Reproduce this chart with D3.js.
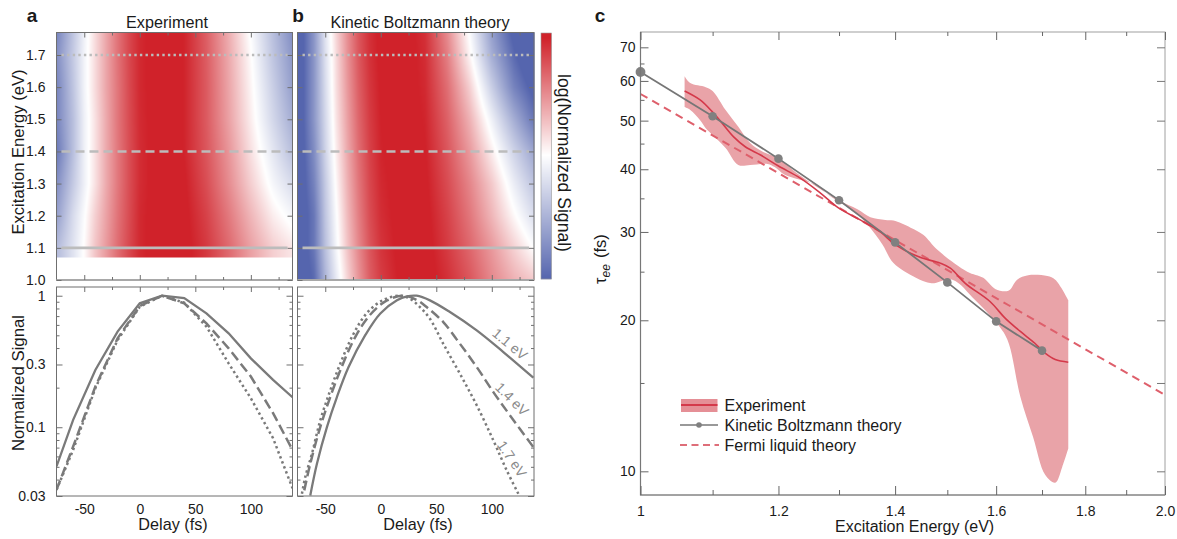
<!DOCTYPE html>
<html><head><meta charset="utf-8">
<script src="https://cdn.jsdelivr.net/npm/d3@7"></script>
<style>
html,body{margin:0;padding:0;background:#fff}
svg{display:block}
text{font-family:"Liberation Sans",Arial,sans-serif;fill:#1a1a1a}
</style></head><body>
<svg id="c" width="1177" height="539"></svg>
<script>
// Heat map grid: delay columns (fs), energy rows (eV), normalized signal cells
const delays=[-75,-60,-50,-40,-30,-20,-10,0,20,40,60,80,100,120,137.5];
const energiesA=[1.07,1.1,1.2,1.3,1.4,1.5,1.6,1.7,1.77];
const signalA=[
[.075,.12,.17,.26,.36,.50,.66,.84,1,.97,.75,.52,.34,.24,.20],
[.075,.12,.17,.26,.36,.50,.66,.84,1,.97,.75,.52,.34,.24,.20],
[.055,.11,.16,.24,.34,.48,.64,.84,1,.95,.70,.46,.29,.19,.15],
[.045,.09,.14,.21,.32,.46,.63,.82,1,.92,.64,.40,.24,.15,.11],
[.035,.08,.14,.21,.32,.46,.63,.82,1,.88,.60,.37,.21,.125,.08],
[.04,.08,.14,.21,.32,.47,.64,.83,1,.88,.58,.34,.19,.105,.065],
[.04,.085,.145,.22,.33,.47,.65,.84,1,.88,.58,.33,.18,.095,.055],
[.045,.09,.145,.22,.33,.48,.66,.84,1,.88,.57,.32,.17,.085,.05],
[.04,.085,.14,.22,.33,.48,.66,.84,1,.88,.56,.31,.16,.08,.045]];
const energiesB=[1.0,1.1,1.2,1.3,1.4,1.5,1.6,1.7,1.77];
const signalB=[
[.02,.03,.07,.13,.23,.37,.56,.72,.95,1,.80,.60,.41,.30,.25],
[.02,.035,.08,.15,.26,.41,.60,.77,.97,.98,.74,.53,.36,.235,.165],
[.02,.035,.085,.16,.28,.44,.64,.81,.98,.96,.70,.47,.29,.175,.115],
[.02,.04,.09,.175,.30,.47,.67,.84,.99,.93,.65,.42,.25,.135,.085],
[.02,.045,.10,.19,.32,.50,.70,.87,1,.90,.60,.36,.19,.10,.06],
[.02,.05,.105,.205,.34,.53,.73,.89,1,.87,.55,.30,.14,.065,.035],
[.02,.05,.11,.215,.36,.56,.76,.91,1,.84,.50,.24,.095,.04,.025],
[.02,.05,.115,.22,.38,.59,.79,.93,1,.82,.44,.18,.065,.03,.018],
[.02,.05,.12,.23,.39,.60,.80,.94,1,.80,.40,.16,.055,.025,.015]];

// Lower panels: normalized signal against delay
const expDelay=[-75,-60,-40,-20,0,20,40,60,80,100,120,137.5];
const exp11=[.0503,.1137,.2726,.533,.875,1,.96,.734,.518,.334,.229,.169];
const exp14=[.0334,.0713,.204,.474,.835,1,.875,.616,.398,.243,.128,.0673];
const exp17=[.0334,.0673,.198,.46,.825,1,.885,.582,.306,.166,.0825,.0344];
const thDelay11=[-63.5,-57.5,-48.5,-39.5,-29,-14,-.4,14.6,23.6,32.3,44.3,62.3,86.4,110.4,137.4];
const th11=[.0303,.0528,.1003,.1696,.2868,.501,.733,.922,.988,1,.922,.751,.545,.373,.238];
const thDelay14=[-68.9,-63.5,-54.5,-45.5,-36.5,-23,-9.4,5.6,20.6,32.3,41.3,56.3,71.3,86.4,101.4,116.4,137.4];
const th14=[.0331,.0528,.1003,.1696,.2705,.485,.72,.922,1,.93,.82,.63,.431,.287,.185,.123,.0706];
const thDelay17=[-71,-68,-62,-54.5,-45.5,-36.5,-24.5,-12.4,2.6,17.6,26.3,35.3,44.3,56.3,71.3,86.4,101.4,113.4,123.9];
const th17=[.0312,.0418,.0629,.1127,.1906,.304,.514,.74,.932,1,.949,.82,.668,.431,.255,.147,.0794,.047,.0312];

// Panel c
const boltzE=[1.0,1.1,1.2,1.3,1.4,1.5,1.6,1.7];
const boltzTau=[62.5,51,42,34.7,28.6,23.8,19.9,17.4];
const fermiE=[1.0,2.0];
const fermiTau=[56.5,14.2];
const expE=[1.060,1.082,1.100,1.114,1.131,1.149,1.172,1.200,1.235,1.268,1.299,1.337,1.373,1.400,1.447,1.486,1.506,1.536,1.587,1.619,1.652,1.684,1.707,1.730,1.760];
const expTau=[57.3,55.0,52.0,49.4,46.4,44.3,42.7,40.6,38.4,35.9,33.5,31.7,30.0,28.3,26.7,26.0,25.4,23.7,21.8,20.2,19.0,18.0,17.2,16.7,16.5];
const upperE=[1.060,1.068,1.090,1.100,1.119,1.138,1.156,1.176,1.200,1.227,1.252,1.299,1.332,1.355,1.382,1.397,1.429,1.453,1.481,1.540,1.573,1.598,1.626,1.645,1.669,1.712,1.730,1.760];
const upperTau=[61.3,59.4,58.3,57.3,52.5,48.6,45.1,43.3,42.1,39.5,37.6,34.7,33.3,32.1,31.7,31.6,30.6,29.6,27.6,25.0,24.3,23.1,22.9,24.1,24.6,24.5,24.1,21.95];
const lowerE=[1.060,1.068,1.082,1.090,1.100,1.119,1.138,1.156,1.183,1.194,1.210,1.235,1.261,1.287,1.323,1.350,1.377,1.397,1.439,1.469,1.510,1.556,1.600,1.624,1.652,1.680,1.707,1.730,1.746,1.760];
const lowerTau=[53.2,52.5,50.1,48.3,46.8,44.1,40.8,40.8,41.0,40.4,39.0,38.1,37.2,35.2,33.2,31.0,28.3,26.0,24.3,23.7,24.1,21.95,19.8,18.3,14.08,11.7,9.84,9.49,10.2,11.1];

const yTicksHeat=[1.0,1.1,1.2,1.3,1.4,1.5,1.6,1.7];
const xTicksDelay=[-50,0,50,100];
const xMinorDelay=[-25,25,75,125];
const yTicksSignal=[1,.3,.1,.03];
const yMinorSignal=[.9,.8,.7,.6,.5,.4,.2,.09,.08,.07,.06,.05,.04];
const xTicksC=[1,1.2,1.4,1.6,1.8,2.0];
const xMinorC=[1.1,1.3,1.5,1.7,1.9];
const yTicksC=[10,20,30,40,50,60,70];
const yMinorC=[15,25,35,45,55,65];

const svg=d3.select("#c");
const frameCol="#6f6f6f";
const heatColor=d3.scaleLinear().domain([-1.55,-.78,-.05]).range(["#5565ae","#ffffff","#d0222a"]).clamp(true);

function lookup(rows,grid,e,d){
  if(e<rows[0]||e>rows[rows.length-1]) return null;
  let i=Math.min(d3.bisectRight(rows,e)-1,rows.length-2);
  let j=Math.min(Math.max(d3.bisectRight(delays,d)-1,0),delays.length-2);
  const u=(e-rows[i])/(rows[i+1]-rows[i]), v=Math.max(0,Math.min(1,(d-delays[j])/(delays[j+1]-delays[j])));
  const L=x=>Math.log10(x);
  return (1-u)*((1-v)*L(grid[i][j])+v*L(grid[i][j+1]))+u*((1-v)*L(grid[i+1][j])+v*L(grid[i+1][j+1]));
}
function axis(g,gen,t,opts={}){
  const a=g.append("g").attr("transform",t).call(gen);
  a.select(".domain").remove();
  a.selectAll(".tick line").attr("stroke",opts.col||frameCol).attr("stroke-width",1);
  a.selectAll(".tick text").attr("font-size",opts.fs||14).attr("fill","#1a1a1a").attr("font-family",'"Liberation Sans",Arial,sans-serif');
  return a;
}
function frame(x,y,opts={}){
  const [x0,x1]=x.range(),[y0,y1]=[y.range()[1],y.range()[0]];
  svg.append("rect").attr("x",x0).attr("y",y0).attr("width",x1-x0).attr("height",y1-y0)
    .attr("fill","none").attr("stroke",opts.col||frameCol).attr("stroke-width",1);
}
function heat(x,y,rows,grid){
  const [x0,x1]=x.range(),[y1,y0]=y.range();
  const W=Math.round(x1-x0),H=Math.round(y1-y0);
  const cv=document.createElement("canvas");cv.width=W;cv.height=H;
  const ctx=cv.getContext("2d"),img=ctx.createImageData(W,H);
  for(let r=0;r<H;r++)for(let c=0;c<W;c++){
    const val=lookup(rows,grid,y.invert(y0+r+.5),x.invert(x0+c+.5));
    const k=(r*W+c)*4;
    if(val===null){img.data.set([255,255,255,255],k);continue;}
    const col=d3.rgb(heatColor(val));
    img.data.set([col.r,col.g,col.b,255],k);
  }
  ctx.putImageData(img,0,0);
  svg.append("image").attr("x",x0).attr("y",y0).attr("width",W).attr("height",H).attr("href",cv.toDataURL());
}
function delayTicks(x,y,heatPanel){
  const [b,t]=y.range();
  axis(svg,d3.axisTop(x).tickValues(xTicksDelay).tickSize(-5).tickFormat(""),`translate(0,${t})`);
  axis(svg,d3.axisTop(x).tickValues(xMinorDelay).tickSize(-3).tickFormat(""),`translate(0,${t})`);
  if(heatPanel){
    axis(svg,d3.axisBottom(x).tickValues(xTicksDelay).tickSize(-5).tickFormat(""),`translate(0,${b})`);
    axis(svg,d3.axisBottom(x).tickValues(xMinorDelay).tickSize(-3).tickFormat(""),`translate(0,${b})`);
  } else {
    axis(svg,d3.axisBottom(x).tickValues(xTicksDelay).tickSize(0).tickPadding(8).tickFormat(d=>String(d)),`translate(0,${b})`);
  }
}
function guide(x,y,e,dash,width){
  svg.append("line").attr("x1",x.range()[0]+5).attr("x2",x.range()[1]-5).attr("y1",y(e)).attr("y2",y(e))
    .attr("stroke","#bcbcbc").attr("stroke-width",width).attr("stroke-dasharray",dash);
}
function title(s,x,y,opts={}){
  const t=svg.append("text").attr("x",x).attr("y",y).attr("text-anchor",opts.anchor||"middle")
    .attr("font-size",opts.fs||16).attr("font-weight",opts.bold?"bold":null).text(s);
  if(opts.rot!==undefined) t.attr("transform",`rotate(${opts.rot} ${x} ${y})`);
  if(opts.dy) t.attr("dy",opts.dy);
  if(opts.fill) t.style("fill",opts.fill);
  return t;
}

// ---- Heat maps
const xA=d3.scaleLinear().domain([-75,137.5]).range([56.5,292.5]);
const xB=d3.scaleLinear().domain([-75,138]).range([297.5,534]);
const yH=d3.scaleLinear().domain([1.0,1.77]).range([280,32.5]);
heat(xA,yH,energiesA,signalA);
heat(xB,yH,energiesB,signalB);
[[xA,true],[xB,false]].forEach(([x,lab])=>{
  frame(x,yH);
  svg.append("line").attr("x1",x.range()[0]).attr("x2",x.range()[1]).attr("y1",280).attr("y2",280).attr("stroke","#a8a8a8").attr("stroke-width",2);
  delayTicks(x,yH,true);
  axis(svg,d3.axisRight(yH).tickValues(yTicksHeat).tickSize(-5).tickFormat(""),`translate(${x.range()[1]},0)`);
  axis(svg,d3.axisLeft(yH).tickValues(yTicksHeat).tickSize(-5).tickPadding(11).tickFormat(lab?d3.format(".1f"):""),`translate(${x.range()[0]},0)`);
  guide(x,yH,1.1,null,2.6);
  guide(x,yH,1.4,"9 5",2.4);
  guide(x,yH,1.7,"2.4 3.2",2.4);
});

// ---- Color bar
const barY=d3.scaleLinear().domain([-1.55,-.02]).range([279,33]);
d3.range(33,279).forEach(py=>{
  svg.append("rect").attr("x",541).attr("y",py).attr("width",10.5).attr("height",1.2).attr("fill",heatColor(barY.invert(py+.5)));
});
svg.append("rect").attr("x",541).attr("y",33).attr("width",10.5).attr("height",246).attr("fill","none").attr("stroke","#999").attr("stroke-width",.6);

// ---- Lower line panels
const yS=d3.scaleLog().domain([.03,1.165]).range([496,287]);
const clip=svg.append("defs");
function clipFor(id,x,y){
  clip.append("clipPath").attr("id",id).append("rect").attr("x",x.range()[0]).attr("y",y.range()[1]).attr("width",x.range()[1]-x.range()[0]).attr("height",y.range()[0]-y.range()[1]);
}
clipFor("cA",xA,yS);clipFor("cB",xB,yS);
function sigLine(x,ds,vs,dash,clipId,curve,w){
  const l=d3.line().x(i=>x(ds[i])).y(i=>yS(vs[i])).curve(curve);
  svg.append("path").attr("d",l(d3.range(ds.length))).attr("fill","none").attr("stroke","#7a7a7a")
    .attr("stroke-width",w).attr("stroke-dasharray",dash).attr("clip-path",`url(#${clipId})`);
}
sigLine(xA,expDelay,exp17,"2.4 3","cA",d3.curveLinear,2.5);
sigLine(xA,expDelay,exp14,"10 4.5","cA",d3.curveLinear,2.5);
sigLine(xA,expDelay,exp11,null,"cA",d3.curveLinear,2.3);
sigLine(xB,thDelay17,th17,"2.4 3","cB",d3.curveCatmullRom,2.5);
sigLine(xB,thDelay14,th14,"10 4.5","cB",d3.curveCatmullRom,2.5);
sigLine(xB,thDelay11,th11,null,"cB",d3.curveCatmullRom,2.3);
[[xA,true],[xB,false]].forEach(([x,lab])=>{
  frame(x,yS);
  delayTicks(x,yS,false);
  axis(svg,d3.axisLeft(yS).tickValues(yTicksSignal).tickSize(-6).tickPadding(11).tickFormat(lab?d3.format(""):""),`translate(${x.range()[0]},0)`);
  axis(svg,d3.axisLeft(yS).tickValues(yMinorSignal).tickSize(-3).tickFormat(""),`translate(${x.range()[0]},0)`);
  axis(svg,d3.axisRight(yS).tickValues(yTicksSignal).tickSize(-6).tickFormat(""),`translate(${x.range()[1]},0)`);
  axis(svg,d3.axisRight(yS).tickValues(yMinorSignal).tickSize(-3).tickFormat(""),`translate(${x.range()[1]},0)`);
});
title("1.1 eV",510,344,{fs:14,rot:40,fill:"#8a8a8a",dy:".35em"});
title("1.4 eV",512,399,{fs:14,rot:45,fill:"#8a8a8a",dy:".35em"});
title("1.7 eV",512,459,{fs:14,rot:56,fill:"#8a8a8a",dy:".35em"});

// ---- Panel c
const xC=d3.scaleLog().domain([1,2]).range([640.5,1165]);
const yC=d3.scaleLog().domain([8.97,75.1]).range([495,32]);
const edge=d3.line().x(d=>xC(d[0])).y(d=>yC(d[1])).curve(d3.curveCatmullRom);
const upperPts=upperE.map((e,i)=>[e,upperTau[i]]);
const lowerPts=lowerE.map((e,i)=>[e,lowerTau[i]]).reverse();
svg.append("path").attr("d",edge(upperPts)+"L"+edge(lowerPts).slice(1)+"Z").attr("fill","#e9a3a8").attr("stroke","none");
svg.append("path").attr("d",d3.line().x(i=>xC(fermiE[i])).y(i=>yC(fermiTau[i]))([0,1]))
  .attr("fill","none").attr("stroke","#de5f6b").attr("stroke-width",2).attr("stroke-dasharray","8 5.5");
svg.append("path").attr("d",d3.line().x(i=>xC(expE[i])).y(i=>yC(expTau[i])).curve(d3.curveCatmullRom)(d3.range(expE.length)))
  .attr("fill","none").attr("stroke","#d4394a").attr("stroke-width",1.6);
svg.append("path").attr("d",d3.line().x(i=>xC(boltzE[i])).y(i=>yC(boltzTau[i]))(d3.range(boltzE.length)))
  .attr("fill","none").attr("stroke","#767676").attr("stroke-width",1.8);
svg.selectAll("circle.b").data(boltzE).join("circle").attr("class","b")
  .attr("cx",d=>xC(d)).attr("cy",(d,i)=>yC(boltzTau[i])).attr("r",(d,i)=>i?4.3:4.9).attr("fill","#808080");
svg.append("rect").attr("x",640.5).attr("y",32).attr("width",524.5).attr("height",463).attr("fill","none").attr("stroke","#a0a0a0").attr("stroke-width",1);
svg.append("path").attr("d","M640.5 32V495H1165").attr("fill","none").attr("stroke","#777").attr("stroke-width",1.2);
axis(svg,d3.axisBottom(xC).tickValues(xTicksC).tickSize(-9).tickPadding(11).tickFormat(d=>d===1?"1":d.toFixed(1)),"translate(0,495)",{col:"#666"});
axis(svg,d3.axisBottom(xC).tickValues(xMinorC).tickSize(-5).tickFormat(""),"translate(0,495)",{col:"#666"});
axis(svg,d3.axisTop(xC).tickValues(xTicksC).tickSize(-8).tickFormat(""),"translate(0,32)",{col:"#666"});
axis(svg,d3.axisTop(xC).tickValues(xMinorC).tickSize(-4).tickFormat(""),"translate(0,32)",{col:"#666"});
axis(svg,d3.axisLeft(yC).tickValues(yTicksC).tickSize(-8).tickPadding(5).tickFormat(d3.format("d")),"translate(640.5,0)",{col:"#666"});
axis(svg,d3.axisLeft(yC).tickValues(yMinorC).tickSize(-4).tickFormat(""),"translate(640.5,0)",{col:"#666"});
axis(svg,d3.axisRight(yC).tickValues(yTicksC.concat(yMinorC.filter(d=>d===15||d===25))).tickSize(-8).tickFormat(""),"translate(1165,0)",{col:"#777"});

// Legend
svg.append("rect").attr("x",681).attr("y",399).attr("width",36.5).attr("height",13).attr("fill","#e58f96");
svg.append("line").attr("x1",681).attr("x2",717.5).attr("y1",405).attr("y2",405).attr("stroke","#d4394a").attr("stroke-width",2);
svg.append("line").attr("x1",680).attr("x2",718).attr("y1",425).attr("y2",425).attr("stroke","#777").attr("stroke-width",1.6);
svg.append("circle").attr("cx",699).attr("cy",425).attr("r",2.8).attr("fill","#808080");
svg.append("line").attr("x1",680).attr("x2",719).attr("y1",445).attr("y2",445).attr("stroke","#de6e79").attr("stroke-width",2).attr("stroke-dasharray","7 4.5");
title("Experiment",724.5,411,{anchor:"start"});
title("Kinetic Boltzmann theory",724.5,431,{anchor:"start"});
title("Fermi liquid theory",724.5,451,{anchor:"start"});

// ---- Titles
title("a",32,22,{bold:true,fs:19});
title("b",298,22,{bold:true,fs:19});
title("c",600,22,{bold:true,fs:19});
title("Experiment",167,27.5,{fs:16.2});
title("Kinetic Boltzmann theory",420,27.5,{fs:16.2});
title("Excitation Energy (eV)",24,152,{rot:-90,fs:16.6});
title("Normalized Signal",24,383,{rot:-90,fs:16.8});
title("Delay (fs)",173,530,{fs:16.2});
title("Delay (fs)",418,530,{fs:16.2});
title("log(Normalized Signal)",558,163,{rot:90,fs:17.6});
title("Excitation Energy (eV)",835,532,{anchor:"start",fs:16});
const tau=svg.append("text").attr("transform","translate(606,284) rotate(-90)").attr("font-size",16.5);
tau.append("tspan").text("τ");
tau.append("tspan").attr("dy",4).attr("font-size",12).attr("font-style","italic").text("ee");
tau.append("tspan").attr("dy",-4).attr("dx",6).text("(fs)");
</script>
</body></html>
